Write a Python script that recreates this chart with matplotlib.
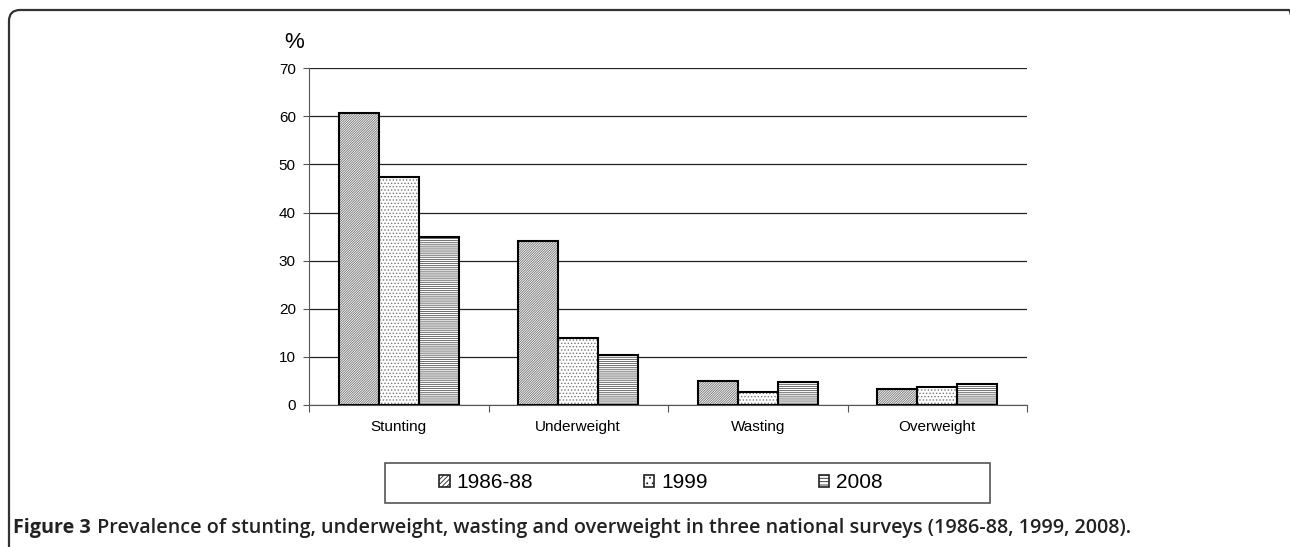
import numpy as np
import matplotlib.pyplot as plt
from matplotlib.patches import Patch, Rectangle, FancyBboxPatch
from matplotlib import transforms

# data
categories = ['Stunting', 'Underweight', 'Wasting', 'Overweight']
years = ['1986-88', '1999', '2008']
v1986 = [60.8, 34.0, 5.0, 3.4]
v1999 = [47.5, 14.0, 2.6, 3.8]
v2008 = [35.0, 10.3, 4.7, 4.4]
yticks = [0, 10, 20, 30, 40, 50, 60, 70]

caption_bold = 'Figure 3'
caption_rest = (' Prevalence of stunting, underweight, wasting and overweight '
                'in three national surveys (1986-88, 1999, 2008).')

plt.rcParams['font.family'] = 'Liberation Sans'
plt.rcParams['hatch.linewidth'] = 0.6

W, H = 1290, 547
fig = plt.figure(figsize=(W / 100, H / 100), dpi=100)
ax = fig.add_axes([309 / W, 1 - 405 / H, (1027 - 309) / W, (405 - 68.3) / H])

x = np.arange(len(categories))
bw = 1 / 4.5
hatches = ['/' * 14, '.' * 5, '-' * 8]
hcolors = ['#707070', '#777777', '#555555']
for i, vals in enumerate([v1986, v1999, v2008]):
    xs = x + (i - 1) * bw
    ax.bar(xs, vals, bw, color='white', edgecolor=hcolors[i], linewidth=0,
           hatch=hatches[i], zorder=3)
    ax.bar(xs, vals, bw, fill=False, edgecolor='black', linewidth=1.5, zorder=4)

ax.set_xlim(-0.5, 3.5)
ax.set_ylim(0, 70)
ax.set_yticks(yticks)
ax.yaxis.grid(True, color='#222222', linewidth=0.9)
ax.set_axisbelow(True)
for s in ['top', 'right']:
    ax.spines[s].set_visible(False)
ax.spines['left'].set_color('#555555')
ax.spines['bottom'].set_color('#555555')
ax.tick_params(axis='y', length=4.5, width=0.8, color='#555555', pad=5, labelsize=11)
ax.set_xticks(np.arange(-0.5, 4, 1))
ax.set_xticklabels([])
ax.set_xticks(x, minor=True)
ax.set_xticklabels(categories, minor=True)
ax.tick_params(axis='x', which='major', length=5, width=0.8, color='#555555')
ax.tick_params(axis='x', which='minor', length=0, pad=11, labelsize=11)

fig.text(294 / W, 1 - 42 / H, '%', fontsize=16, ha='center', va='center')

# legend
lx0, lx1, ly0, ly1 = 385, 990, 463, 503
fig.patches.append(Rectangle((lx0 / W, 1 - ly1 / H), (lx1 - lx0) / W, (ly1 - ly0) / H,
                             transform=fig.transFigure, fill=False,
                             edgecolor='#555555', linewidth=1.2))
handles = [Patch(facecolor='white', edgecolor='#222222', hatch=h, linewidth=1.2)
           for h in ['/' * 7, '...', '-' * 5]]
fig.legend(handles, years, loc='center', bbox_to_anchor=(661 / W, 1 - 483 / H),
           ncol=3, frameon=False, fontsize=15, handlelength=0.5, handleheight=0.5,
           handletextpad=0.35, columnspacing=5.3)

# outer rounded frame
frame = FancyBboxPatch((9, -20), 1291, H - 10 + 20, boxstyle='round,pad=0,rounding_size=11',
                       transform=transforms.IdentityTransform(), fill=False,
                       edgecolor='#333333', linewidth=1.6)
fig.patches.append(frame)

# caption
t1 = fig.text(13 / W, 1 - 528 / H, caption_bold, fontsize=14.2, fontweight='bold',
              family='Open Sans', va='center', ha='left', color='#222222')
fig.canvas.draw()
r = fig.canvas.get_renderer()
bb = t1.get_window_extent(r)
fig.text((bb.x1 + 1) / W, 1 - 528 / H, caption_rest, fontsize=14.2, fontweight='semibold',
         family='Open Sans', va='center', ha='left', color='#222222')

fig.savefig('out.png', dpi=100)
